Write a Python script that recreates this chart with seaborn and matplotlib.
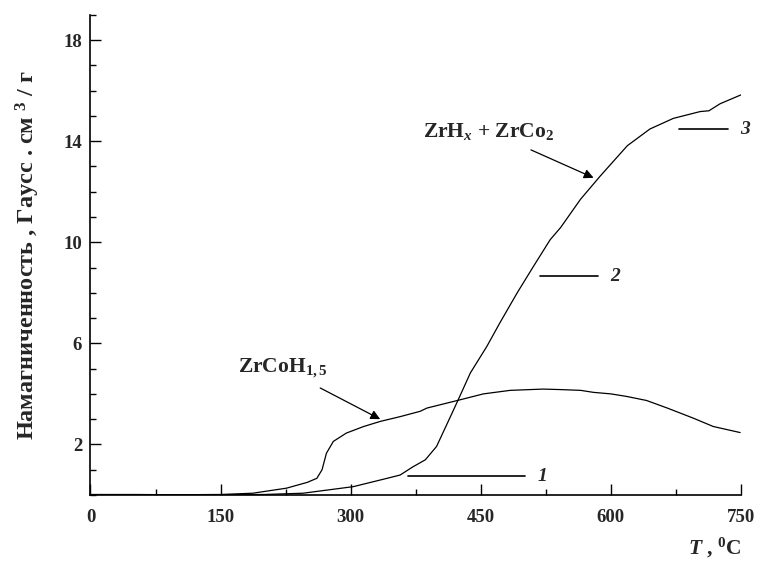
import numpy as np
import pandas as pd
import matplotlib
matplotlib.use('Agg')
import matplotlib.pyplot as plt
from matplotlib.ticker import MultipleLocator, FixedLocator
import seaborn as sns

# Data
t_zrcoh = [0, 50, 100, 150, 187, 226, 250, 261, 267, 272, 280, 295, 315, 334,
           357, 380, 388, 422, 453, 484, 522, 542, 565, 580, 600, 618, 641,
           665, 695, 718, 749]
m_zrcoh = [0.02, 0.02, 0.01, 0.02, 0.07, 0.27, 0.5, 0.66, 1.0, 1.65, 2.12, 2.45,
           2.71, 2.91, 3.1, 3.31, 3.44, 3.73, 4.0, 4.14, 4.19, 4.17, 4.14, 4.06,
           4.0, 3.9, 3.74, 3.44, 3.04, 2.71, 2.47]

t_zrhx = [0, 100, 200, 245, 303, 342, 357, 372, 386, 399, 415, 424, 438, 457,
          472, 492, 511, 530, 542, 565, 588, 619, 645, 672, 703, 713, 726, 750]
m_zrhx = [0.0, 0.0, 0.02, 0.07, 0.33, 0.66, 0.79, 1.12, 1.39, 1.92, 3.1, 3.77,
          4.83, 5.88, 6.81, 8.0, 9.06, 10.1, 10.58, 11.7, 12.63, 13.82, 14.48,
          14.9, 15.17, 15.2, 15.48, 15.83]

x_ticks = [0, 150, 300, 450, 600, 750]
y_ticks = [2, 6, 10, 14, 18]

# leader lines for curve numbers: (t_start, t_end, m, label)
leaders = [(366, 501, 0.75, '1'), (518, 585, 8.65, '2'), (678, 735, 14.46, '3')]

df = pd.concat([
    pd.DataFrame({'T': t_zrcoh, 'M': m_zrcoh, 'curve': 'ZrCoH'}),
    pd.DataFrame({'T': t_zrhx, 'M': m_zrhx, 'curve': 'ZrHx'}),
])

sns.set_theme(style='ticks')
plt.rcParams['font.family'] = ['Liberation Serif', 'DejaVu Serif']
plt.rcParams['font.weight'] = 'bold'
plt.rcParams['mathtext.fontset'] = 'custom'
plt.rcParams['mathtext.rm'] = 'Liberation Serif:bold'
plt.rcParams['mathtext.bf'] = 'Liberation Serif:bold'
plt.rcParams['mathtext.it'] = 'Liberation Serif:italic:bold'

fig = plt.figure(figsize=(7.8, 5.67), dpi=100)
ax = fig.add_axes([0.116, 0.127, 0.834, 0.847])

sns.lineplot(data=df, x='T', y='M', units='curve', estimator=None,
             color='black', lw=0.9, ax=ax, legend=False)

for t0, t1, m, lab in leaders:
    ax.plot([t0, t1], [m, m], color='black', lw=1.2)
    ax.text(t1 + 14, m, lab, fontsize=14, style='italic', fontweight='bold',
            va='center', ha='left')

# phase annotations
ax.annotate('ZrCoH$_{1,5}$', xy=(334, 3.0), xytext=(222, 5.0),
            fontsize=15.5, fontweight='bold', ha='center', va='center',
            arrowprops=dict(arrowstyle='-|>', color='black', lw=0.9,
                            mutation_scale=14, shrinkA=7, shrinkB=0))
ax.annotate('ZrH$_{x}$ + ZrCo$_{2}$', xy=(580, 12.55), xytext=(459, 14.4),
            fontsize=15.5, fontweight='bold', ha='center', va='center',
            arrowprops=dict(arrowstyle='-|>', color='black', lw=0.9,
                            mutation_scale=14, shrinkA=9, shrinkB=0))

ax.set_xlim(0, 750)
ax.set_ylim(0, 19)
ax.xaxis.set_major_locator(FixedLocator(x_ticks))
ax.xaxis.set_minor_locator(MultipleLocator(75))
ax.yaxis.set_major_locator(FixedLocator(y_ticks))
ax.yaxis.set_minor_locator(MultipleLocator(1))
ax.tick_params(which='both', direction='in', color='black', width=1)
ax.tick_params(which='major', length=8, labelsize=13.5)
ax.tick_params(which='minor', length=4)
ax.tick_params(axis='x', pad=10)
ax.tick_params(axis='y', pad=6)
for lab in ax.get_xticklabels() + ax.get_yticklabels():
    lab.set_fontweight('bold')

sns.despine(ax=ax)
for s in ['left', 'bottom']:
    ax.spines[s].set_color('black')
    ax.spines[s].set_linewidth(1.2)

ax.set_ylabel('Намагниченность , Гаусс . см $^{3}$ / г', fontsize=17.5,
              fontweight='bold')
ax.yaxis.set_label_coords(-0.075, 0.5)
ax.set_xlabel('$T$ , $^{0}$C', fontsize=15.5, fontweight='bold')
ax.xaxis.set_label_coords(0.96, -0.085)

fig.savefig('out.png', dpi=100, facecolor='white')
